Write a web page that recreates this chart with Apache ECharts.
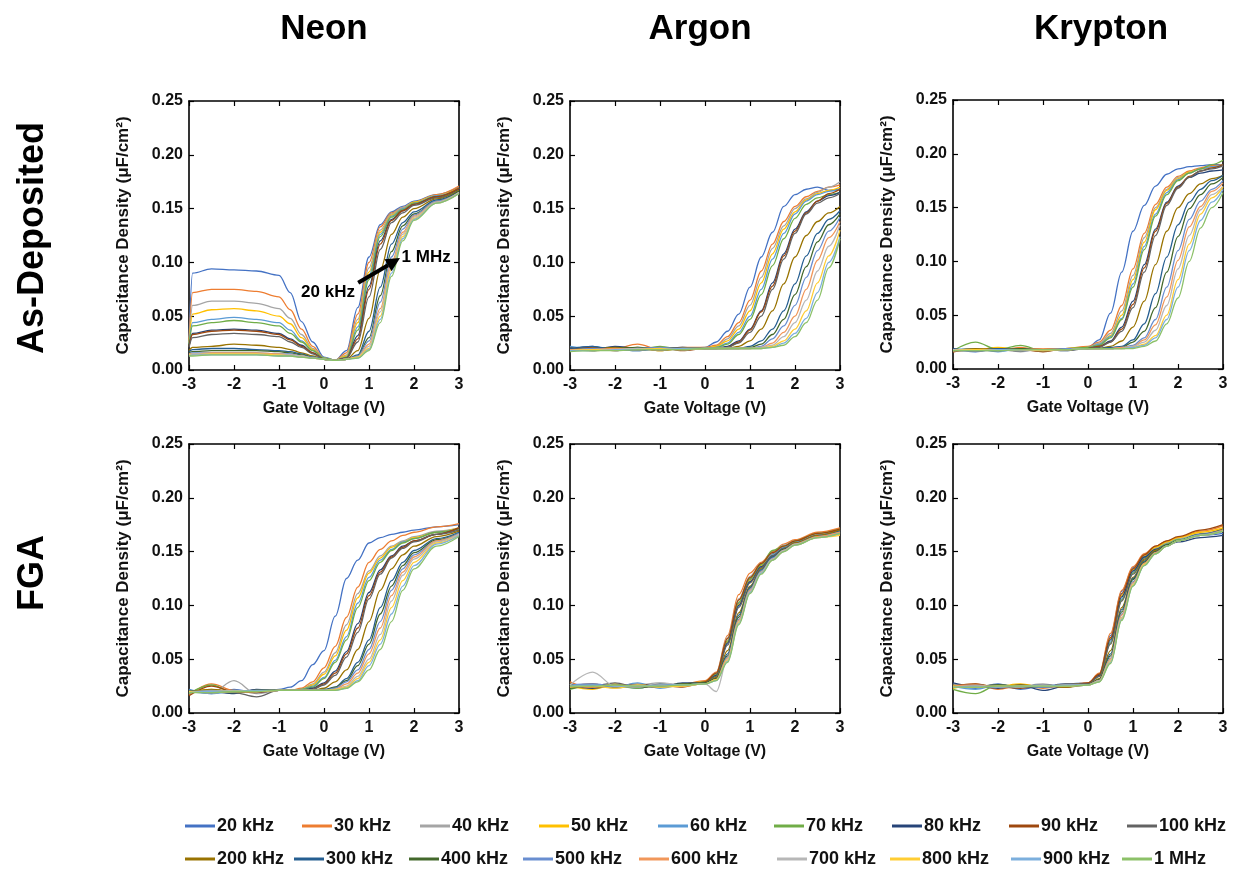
<!DOCTYPE html>
<html><head><meta charset="utf-8">
<script src="https://cdn.jsdelivr.net/npm/echarts@6/dist/echarts.min.js"></script>
<style>html,body{margin:0;padding:0;background:#fff}#c{width:1238px;height:871px}</style>
</head><body><div id="c"></div>
<script>
const FONT = '"Liberation Sans", Arial, sans-serif';
const frequencies = ['20 kHz','30 kHz','40 kHz','50 kHz','60 kHz','70 kHz','80 kHz','90 kHz','100 kHz','200 kHz','300 kHz','400 kHz','500 kHz','600 kHz','700 kHz','800 kHz','900 kHz','1 MHz'];
const lineColors = ['#4472C4','#ED7D31','#A5A5A5','#FFC000','#5B9BD5','#70AD47','#264478','#9E480E','#636363','#997300','#255E91','#43682B','#698ED0','#F1975A','#B7B7B7','#FFCD33','#7CAFDD','#8CC168'];
const gasTitles = ['Neon','Argon','Krypton'];
const rowTitles = ['As-Deposited','FGA'];
const xTickLabels = ['-3','-2','-1','0','1','2','3'];
const yTickLabels = ['0.00','0.05','0.10','0.15','0.20','0.25'];
const xAxisName = 'Gate Voltage (V)';
const yAxisName = 'Capacitance Density (\u03bcF/cm\u00b2)';

// ---- Neon, As-Deposited ----
const voltNeonAD = [-3,-2.92,-2.5,-2,-1.5,-1,-0.75,-0.5,-0.25,0,0.25,0.5,0.75,1,1.25,1.5,1.75,2,2.5,3];
const neonAD = [
 [0.030,0.090,0.094,0.093,0.092,0.088,0.072,0.045,0.026,0.012,0.009,0.018,0.058,0.105,0.135,0.147,0.152,0.157,0.163,0.170],
 [0.028,0.072,0.075,0.075,0.073,0.068,0.056,0.038,0.022,0.011,0.009,0.016,0.052,0.100,0.133,0.146,0.151,0.156,0.163,0.171],
 [0.026,0.060,0.064,0.064,0.062,0.057,0.048,0.033,0.020,0.011,0.009,0.014,0.047,0.095,0.130,0.145,0.151,0.156,0.162,0.169],
 [0.025,0.052,0.056,0.057,0.055,0.050,0.043,0.030,0.019,0.011,0.009,0.013,0.044,0.091,0.128,0.144,0.150,0.156,0.162,0.169],
 [0.024,0.044,0.047,0.049,0.047,0.044,0.037,0.027,0.018,0.011,0.009,0.012,0.040,0.088,0.126,0.143,0.150,0.155,0.162,0.168],
 [0.023,0.041,0.044,0.046,0.044,0.041,0.034,0.026,0.018,0.011,0.009,0.012,0.037,0.084,0.124,0.142,0.149,0.155,0.161,0.168],
 [0.022,0.034,0.037,0.038,0.037,0.034,0.029,0.023,0.016,0.010,0.009,0.011,0.032,0.078,0.120,0.140,0.148,0.154,0.161,0.168],
 [0.022,0.033,0.036,0.037,0.036,0.033,0.028,0.022,0.016,0.010,0.009,0.011,0.029,0.075,0.117,0.139,0.148,0.154,0.161,0.169],
 [0.021,0.030,0.033,0.034,0.033,0.031,0.026,0.021,0.015,0.010,0.009,0.011,0.026,0.068,0.112,0.137,0.146,0.153,0.160,0.167],
 [0.018,0.021,0.022,0.024,0.023,0.021,0.019,0.016,0.013,0.010,0.009,0.010,0.018,0.048,0.093,0.126,0.142,0.150,0.159,0.167],
 [0.017,0.019,0.020,0.020,0.019,0.018,0.017,0.015,0.012,0.010,0.009,0.010,0.014,0.036,0.077,0.117,0.137,0.147,0.158,0.166],
 [0.016,0.017,0.018,0.018,0.018,0.017,0.016,0.014,0.012,0.010,0.009,0.010,0.013,0.030,0.069,0.110,0.134,0.145,0.157,0.166],
 [0.015,0.016,0.016,0.016,0.016,0.015,0.015,0.013,0.012,0.010,0.009,0.010,0.013,0.027,0.063,0.105,0.131,0.144,0.157,0.165],
 [0.015,0.015,0.016,0.016,0.016,0.015,0.014,0.013,0.011,0.010,0.009,0.010,0.012,0.024,0.057,0.100,0.128,0.143,0.156,0.165],
 [0.014,0.015,0.015,0.015,0.015,0.014,0.014,0.013,0.011,0.010,0.009,0.010,0.012,0.022,0.054,0.097,0.126,0.142,0.156,0.165],
 [0.014,0.014,0.015,0.015,0.015,0.014,0.013,0.012,0.011,0.010,0.009,0.010,0.012,0.020,0.050,0.094,0.124,0.141,0.155,0.164],
 [0.013,0.014,0.014,0.014,0.014,0.013,0.013,0.012,0.011,0.010,0.009,0.010,0.011,0.019,0.047,0.090,0.122,0.140,0.155,0.164],
 [0.013,0.013,0.014,0.014,0.014,0.013,0.013,0.012,0.011,0.010,0.009,0.010,0.011,0.018,0.044,0.087,0.120,0.139,0.155,0.164]
];

// ---- Argon, As-Deposited ----
const voltArgonAD = [-3,-2.5,-2,-1.5,-1,-0.5,0,0.25,0.5,0.75,1,1.25,1.5,1.75,2,2.25,2.5,2.75,3];
const argonAD = [
 [0.019,0.022,0.018,0.021,0.020,0.019,0.021,0.026,0.036,0.052,0.077,0.105,0.128,0.152,0.163,0.168,0.170,0.167,0.168],
 [0.021,0.019,0.020,0.024,0.019,0.021,0.021,0.023,0.031,0.044,0.065,0.092,0.117,0.138,0.152,0.161,0.166,0.170,0.172],
 [0.018,0.020,0.021,0.019,0.021,0.020,0.020,0.022,0.029,0.041,0.060,0.086,0.113,0.134,0.150,0.159,0.165,0.170,0.175],
 [0.020,0.018,0.019,0.021,0.018,0.020,0.020,0.022,0.027,0.038,0.055,0.081,0.108,0.131,0.147,0.158,0.164,0.167,0.170],
 [0.022,0.020,0.019,0.018,0.020,0.021,0.020,0.021,0.025,0.035,0.050,0.075,0.103,0.127,0.145,0.157,0.163,0.166,0.168],
 [0.017,0.021,0.020,0.019,0.022,0.019,0.020,0.021,0.024,0.033,0.047,0.070,0.097,0.122,0.141,0.154,0.160,0.163,0.165],
 [0.020,0.019,0.022,0.020,0.019,0.020,0.020,0.020,0.022,0.027,0.038,0.055,0.081,0.108,0.131,0.147,0.157,0.162,0.165],
 [0.019,0.021,0.018,0.020,0.021,0.018,0.020,0.020,0.021,0.026,0.037,0.054,0.078,0.106,0.129,0.146,0.157,0.164,0.168],
 [0.021,0.018,0.020,0.019,0.020,0.021,0.020,0.020,0.021,0.025,0.035,0.050,0.075,0.103,0.127,0.145,0.155,0.160,0.164],
 [0.018,0.020,0.021,0.020,0.018,0.020,0.020,0.020,0.020,0.022,0.027,0.038,0.055,0.080,0.105,0.125,0.138,0.146,0.152],
 [0.020,0.022,0.019,0.018,0.020,0.019,0.020,0.020,0.020,0.020,0.022,0.027,0.038,0.055,0.080,0.106,0.127,0.140,0.148],
 [0.019,0.018,0.020,0.021,0.019,0.020,0.020,0.020,0.020,0.020,0.021,0.024,0.033,0.047,0.070,0.096,0.119,0.135,0.145],
 [0.018,0.020,0.019,0.020,0.021,0.019,0.020,0.020,0.020,0.020,0.020,0.022,0.029,0.041,0.060,0.086,0.111,0.129,0.142],
 [0.019,0.019,0.020,0.019,0.019,0.020,0.020,0.020,0.020,0.020,0.020,0.021,0.025,0.035,0.050,0.075,0.102,0.123,0.138],
 [0.018,0.019,0.019,0.020,0.019,0.019,0.020,0.020,0.020,0.020,0.020,0.021,0.023,0.031,0.044,0.065,0.092,0.115,0.135],
 [0.018,0.019,0.019,0.019,0.020,0.019,0.020,0.020,0.020,0.020,0.020,0.020,0.022,0.027,0.038,0.055,0.081,0.106,0.130],
 [0.018,0.018,0.019,0.019,0.019,0.020,0.020,0.020,0.020,0.020,0.020,0.020,0.021,0.025,0.034,0.048,0.072,0.100,0.124],
 [0.017,0.018,0.018,0.019,0.019,0.019,0.020,0.020,0.020,0.020,0.020,0.020,0.021,0.023,0.031,0.044,0.065,0.095,0.122]
];

// ---- Krypton, As-Deposited ----
const voltKryptonAD = [-3,-2.5,-2,-1.5,-1,-0.5,0,0.25,0.5,0.75,1,1.25,1.5,1.75,2,2.25,2.5,2.75,3];
const kryptonAD = [
 [0.018,0.016,0.019,0.017,0.019,0.018,0.020,0.027,0.052,0.090,0.128,0.152,0.170,0.181,0.186,0.188,0.189,0.190,0.190],
 [0.016,0.019,0.017,0.020,0.017,0.019,0.021,0.025,0.036,0.059,0.093,0.126,0.153,0.169,0.179,0.184,0.187,0.189,0.190],
 [0.019,0.017,0.018,0.016,0.019,0.018,0.020,0.024,0.033,0.054,0.087,0.122,0.150,0.167,0.178,0.183,0.186,0.188,0.188],
 [0.017,0.018,0.020,0.018,0.017,0.019,0.020,0.023,0.031,0.050,0.083,0.118,0.148,0.166,0.177,0.183,0.186,0.188,0.190],
 [0.018,0.019,0.016,0.019,0.018,0.017,0.020,0.023,0.030,0.047,0.079,0.114,0.144,0.164,0.176,0.182,0.186,0.188,0.190],
 [0.017,0.025,0.018,0.022,0.017,0.019,0.020,0.022,0.029,0.046,0.076,0.111,0.142,0.162,0.175,0.182,0.186,0.190,0.194],
 [0.019,0.017,0.018,0.017,0.019,0.018,0.019,0.021,0.026,0.039,0.063,0.097,0.130,0.155,0.170,0.178,0.182,0.184,0.185],
 [0.016,0.018,0.019,0.018,0.016,0.019,0.019,0.021,0.025,0.037,0.060,0.094,0.128,0.154,0.169,0.179,0.184,0.187,0.190],
 [0.018,0.017,0.017,0.019,0.018,0.017,0.019,0.020,0.025,0.035,0.057,0.090,0.124,0.152,0.168,0.178,0.184,0.186,0.189],
 [0.017,0.019,0.018,0.017,0.019,0.018,0.019,0.019,0.021,0.026,0.039,0.063,0.097,0.128,0.150,0.163,0.172,0.177,0.180],
 [0.018,0.017,0.019,0.018,0.017,0.018,0.019,0.019,0.020,0.021,0.027,0.042,0.070,0.104,0.134,0.155,0.167,0.175,0.180],
 [0.017,0.018,0.017,0.019,0.018,0.018,0.019,0.019,0.019,0.020,0.025,0.035,0.057,0.090,0.123,0.149,0.162,0.172,0.178],
 [0.018,0.018,0.018,0.017,0.018,0.019,0.019,0.019,0.019,0.020,0.022,0.029,0.046,0.076,0.110,0.139,0.156,0.167,0.175],
 [0.017,0.017,0.018,0.018,0.019,0.018,0.019,0.019,0.019,0.020,0.021,0.027,0.041,0.067,0.101,0.132,0.151,0.165,0.173],
 [0.018,0.018,0.017,0.018,0.018,0.018,0.019,0.019,0.019,0.019,0.021,0.025,0.036,0.059,0.093,0.124,0.148,0.162,0.170],
 [0.017,0.018,0.018,0.018,0.017,0.018,0.019,0.019,0.019,0.019,0.020,0.023,0.031,0.050,0.083,0.116,0.144,0.159,0.169],
 [0.017,0.017,0.018,0.018,0.018,0.018,0.019,0.019,0.019,0.019,0.020,0.022,0.029,0.046,0.076,0.110,0.138,0.155,0.167],
 [0.017,0.017,0.017,0.018,0.018,0.018,0.019,0.019,0.019,0.019,0.019,0.021,0.026,0.042,0.066,0.100,0.131,0.150,0.164]
];

// ---- Neon, FGA ----
const voltNeonFGA = [-3,-2.5,-2,-1.5,-1,-0.75,-0.5,-0.25,0,0.25,0.5,0.75,1,1.25,1.5,1.75,2,2.5,3];
const neonFGA = [
 [0.020,0.018,0.022,0.019,0.022,0.024,0.030,0.045,0.058,0.090,0.125,0.142,0.158,0.163,0.166,0.168,0.170,0.173,0.175],
 [0.017,0.027,0.021,0.020,0.021,0.021,0.023,0.029,0.042,0.062,0.089,0.117,0.140,0.152,0.160,0.165,0.168,0.173,0.176],
 [0.021,0.019,0.030,0.018,0.021,0.021,0.022,0.027,0.038,0.056,0.082,0.111,0.132,0.146,0.155,0.160,0.164,0.169,0.172],
 [0.019,0.022,0.019,0.021,0.021,0.021,0.022,0.026,0.036,0.053,0.077,0.107,0.130,0.144,0.154,0.159,0.163,0.168,0.172],
 [0.022,0.018,0.020,0.019,0.021,0.021,0.022,0.025,0.033,0.049,0.071,0.102,0.126,0.142,0.152,0.159,0.162,0.168,0.171],
 [0.018,0.026,0.019,0.021,0.021,0.021,0.022,0.024,0.032,0.047,0.068,0.098,0.123,0.140,0.151,0.158,0.162,0.168,0.171],
 [0.021,0.020,0.018,0.022,0.021,0.021,0.021,0.023,0.028,0.039,0.057,0.083,0.112,0.133,0.146,0.155,0.160,0.166,0.172],
 [0.016,0.025,0.020,0.019,0.021,0.021,0.021,0.022,0.027,0.037,0.055,0.079,0.109,0.131,0.145,0.154,0.160,0.166,0.172],
 [0.020,0.021,0.019,0.015,0.021,0.021,0.021,0.022,0.026,0.035,0.052,0.075,0.106,0.129,0.144,0.153,0.159,0.166,0.170],
 [0.019,0.022,0.020,0.021,0.021,0.021,0.021,0.021,0.023,0.029,0.040,0.059,0.085,0.114,0.134,0.147,0.155,0.164,0.169],
 [0.021,0.019,0.021,0.020,0.021,0.021,0.021,0.021,0.022,0.024,0.032,0.047,0.068,0.098,0.123,0.140,0.151,0.162,0.168],
 [0.020,0.020,0.019,0.021,0.021,0.021,0.021,0.021,0.021,0.024,0.030,0.044,0.064,0.092,0.118,0.137,0.149,0.161,0.167],
 [0.019,0.021,0.020,0.020,0.021,0.021,0.021,0.021,0.021,0.023,0.029,0.040,0.059,0.085,0.114,0.134,0.147,0.160,0.167],
 [0.020,0.019,0.020,0.020,0.021,0.021,0.021,0.021,0.021,0.022,0.027,0.037,0.055,0.079,0.109,0.131,0.145,0.160,0.166],
 [0.019,0.020,0.021,0.020,0.021,0.021,0.021,0.021,0.021,0.022,0.025,0.034,0.050,0.073,0.104,0.128,0.143,0.159,0.166],
 [0.020,0.020,0.020,0.020,0.021,0.021,0.021,0.021,0.021,0.022,0.024,0.032,0.047,0.068,0.098,0.123,0.140,0.158,0.165],
 [0.019,0.020,0.020,0.021,0.021,0.021,0.021,0.021,0.021,0.021,0.023,0.030,0.044,0.064,0.092,0.118,0.137,0.157,0.165],
 [0.019,0.019,0.020,0.020,0.021,0.021,0.021,0.021,0.021,0.021,0.023,0.029,0.040,0.059,0.085,0.114,0.134,0.155,0.164]
];

// ---- Argon, FGA ----
const voltArgonFGA = [-3,-2.5,-2,-1.5,-1,-0.5,0,0.25,0.5,0.75,1,1.25,1.5,1.75,2,2.5,3];
const argonFGA = [
 [0.027,0.024,0.026,0.023,0.027,0.026,0.029,0.036,0.066,0.102,0.124,0.137,0.148,0.154,0.159,0.164,0.167],
 [0.029,0.023,0.025,0.027,0.024,0.027,0.030,0.038,0.072,0.110,0.130,0.140,0.150,0.157,0.161,0.168,0.172],
 [0.024,0.027,0.023,0.026,0.028,0.025,0.028,0.037,0.070,0.106,0.127,0.139,0.149,0.156,0.160,0.166,0.170],
 [0.025,0.022,0.027,0.024,0.025,0.027,0.029,0.035,0.066,0.101,0.123,0.137,0.147,0.154,0.158,0.164,0.166],
 [0.026,0.025,0.024,0.028,0.023,0.026,0.028,0.035,0.064,0.099,0.122,0.136,0.147,0.154,0.159,0.165,0.169],
 [0.022,0.026,0.025,0.023,0.027,0.025,0.029,0.036,0.067,0.103,0.125,0.138,0.151,0.155,0.160,0.167,0.171],
 [0.026,0.023,0.026,0.025,0.024,0.028,0.028,0.035,0.065,0.100,0.122,0.136,0.146,0.153,0.158,0.165,0.170],
 [0.025,0.027,0.024,0.026,0.026,0.024,0.029,0.037,0.069,0.105,0.126,0.139,0.149,0.155,0.160,0.167,0.171],
 [0.024,0.025,0.028,0.024,0.025,0.026,0.028,0.034,0.063,0.098,0.121,0.135,0.146,0.153,0.158,0.164,0.168],
 [0.027,0.024,0.025,0.026,0.024,0.026,0.028,0.033,0.058,0.093,0.118,0.134,0.145,0.152,0.158,0.165,0.170],
 [0.025,0.026,0.024,0.025,0.027,0.025,0.028,0.032,0.055,0.091,0.117,0.133,0.145,0.152,0.157,0.164,0.169],
 [0.023,0.025,0.026,0.024,0.025,0.027,0.028,0.032,0.053,0.089,0.116,0.132,0.144,0.152,0.157,0.164,0.168],
 [0.026,0.027,0.025,0.026,0.024,0.026,0.027,0.031,0.052,0.087,0.115,0.132,0.144,0.151,0.157,0.164,0.168],
 [0.025,0.024,0.026,0.025,0.026,0.025,0.027,0.031,0.051,0.086,0.114,0.131,0.143,0.151,0.157,0.164,0.168],
 [0.026,0.038,0.025,0.024,0.028,0.026,0.027,0.020,0.050,0.085,0.113,0.131,0.143,0.151,0.157,0.163,0.167],
 [0.024,0.025,0.023,0.026,0.024,0.025,0.027,0.031,0.049,0.084,0.112,0.130,0.142,0.150,0.156,0.163,0.165],
 [0.025,0.026,0.025,0.025,0.026,0.026,0.027,0.030,0.048,0.083,0.112,0.130,0.142,0.150,0.156,0.163,0.167],
 [0.025,0.025,0.026,0.025,0.025,0.026,0.027,0.030,0.047,0.082,0.111,0.129,0.142,0.150,0.156,0.163,0.167]
];

// ---- Krypton, FGA ----
const voltKryptonFGA = [-3,-2.5,-2,-1.5,-1,-0.5,0,0.25,0.5,0.75,1,1.25,1.5,1.75,2,2.5,3];
const kryptonFGA = [
 [0.026,0.023,0.027,0.022,0.025,0.027,0.028,0.036,0.072,0.113,0.135,0.147,0.154,0.158,0.161,0.165,0.167],
 [0.024,0.027,0.022,0.026,0.023,0.026,0.028,0.037,0.074,0.114,0.136,0.148,0.155,0.160,0.163,0.169,0.174],
 [0.027,0.024,0.026,0.025,0.027,0.024,0.027,0.035,0.070,0.110,0.133,0.146,0.153,0.158,0.162,0.167,0.171],
 [0.023,0.026,0.025,0.027,0.024,0.026,0.027,0.035,0.069,0.109,0.133,0.146,0.154,0.159,0.163,0.168,0.172],
 [0.025,0.022,0.026,0.024,0.026,0.025,0.027,0.034,0.066,0.106,0.131,0.145,0.152,0.157,0.161,0.166,0.170],
 [0.022,0.018,0.026,0.025,0.024,0.026,0.027,0.034,0.065,0.105,0.130,0.144,0.152,0.157,0.161,0.166,0.170],
 [0.028,0.025,0.023,0.026,0.021,0.025,0.027,0.035,0.068,0.108,0.132,0.145,0.152,0.156,0.159,0.163,0.165],
 [0.025,0.027,0.024,0.023,0.026,0.024,0.028,0.036,0.070,0.111,0.134,0.147,0.155,0.160,0.164,0.170,0.175],
 [0.024,0.025,0.026,0.025,0.024,0.027,0.027,0.034,0.064,0.104,0.129,0.143,0.151,0.156,0.160,0.165,0.169],
 [0.026,0.024,0.025,0.026,0.025,0.024,0.026,0.032,0.058,0.098,0.126,0.142,0.151,0.156,0.160,0.166,0.171],
 [0.024,0.026,0.024,0.025,0.026,0.025,0.026,0.031,0.055,0.096,0.125,0.141,0.150,0.156,0.160,0.166,0.170],
 [0.025,0.025,0.026,0.024,0.025,0.026,0.026,0.031,0.053,0.094,0.124,0.140,0.150,0.156,0.160,0.166,0.170],
 [0.024,0.024,0.025,0.025,0.024,0.025,0.026,0.030,0.051,0.092,0.122,0.139,0.149,0.155,0.160,0.166,0.170],
 [0.025,0.026,0.024,0.025,0.025,0.026,0.026,0.030,0.050,0.091,0.121,0.139,0.149,0.155,0.160,0.165,0.170],
 [0.024,0.025,0.025,0.024,0.026,0.025,0.026,0.030,0.049,0.089,0.120,0.138,0.148,0.155,0.160,0.165,0.169],
 [0.025,0.024,0.025,0.025,0.025,0.025,0.026,0.029,0.048,0.088,0.119,0.138,0.148,0.155,0.160,0.165,0.169],
 [0.024,0.025,0.024,0.025,0.025,0.026,0.026,0.029,0.047,0.087,0.118,0.137,0.148,0.155,0.160,0.165,0.169],
 [0.024,0.024,0.025,0.025,0.025,0.025,0.026,0.029,0.046,0.086,0.118,0.137,0.148,0.155,0.160,0.165,0.169]
];

const annotationLabels = ['20 kHz','1 MHz'];

// ---------- layout ----------
const panels = [
  {volts: voltNeonAD, rows: neonAD, left: 189, top: 101},
  {volts: voltArgonAD, rows: argonAD, left: 570, top: 101},
  {volts: voltKryptonAD, rows: kryptonAD, left: 953, top: 100},
  {volts: voltNeonFGA, rows: neonFGA, left: 189, top: 444},
  {volts: voltArgonFGA, rows: argonFGA, left: 570, top: 444},
  {volts: voltKryptonFGA, rows: kryptonFGA, left: 953, top: 444}
];
const GW = 270, GH = 269;

const grids = [], xAxes = [], yAxes = [], series = [];
const lineStyleAxis = {color: '#000', width: 1.6};
const tickStyle = {show: true, inside: true, length: 5, lineStyle: {color: '#000', width: 1.2}};
const labelStyle = {fontFamily: FONT, fontWeight: 'bold', fontSize: 16, color: '#111'};

panels.forEach((p, i) => {
  grids.push({left: p.left, top: p.top, width: GW, height: GH, containLabel: false});
  const xBase = {gridIndex: i, type: 'value', min: -3, max: 3, interval: 1, splitLine: {show: false},
    axisLine: {show: true, onZero: false, lineStyle: lineStyleAxis}, axisTick: tickStyle};
  xAxes.push(Object.assign({}, xBase, {position: 'bottom',
    axisLabel: Object.assign({margin: 7, formatter: v => xTickLabels[Math.round(v + 3)]}, labelStyle),
    name: xAxisName, nameLocation: 'middle', nameGap: 31,
    nameTextStyle: {fontFamily: FONT, fontWeight: 'bold', fontSize: 16, color: '#111'}}));
  xAxes.push(Object.assign({}, xBase, {position: 'top', axisLabel: {show: false}}));
  const yBase = {gridIndex: i, type: 'value', min: 0, max: 0.25, interval: 0.05, splitLine: {show: false},
    axisLine: {show: true, onZero: false, lineStyle: lineStyleAxis}, axisTick: tickStyle};
  yAxes.push(Object.assign({}, yBase, {position: 'left',
    axisLabel: Object.assign({margin: 6, formatter: v => yTickLabels[Math.round(v / 0.05)]}, labelStyle),
    name: yAxisName, nameLocation: 'middle', nameGap: 57,
    nameTextStyle: {fontFamily: FONT, fontWeight: 'bold', fontSize: 17, color: '#111'}}));
  yAxes.push(Object.assign({}, yBase, {position: 'right', axisLabel: {show: false}}));
  p.rows.forEach((row, k) => {
    series.push({
      type: 'line', name: frequencies[k], xAxisIndex: 2 * i, yAxisIndex: 2 * i,
      data: p.volts.map((v, j) => [v, row[j]]),
      symbol: 'none', smooth: 0.35, smoothMonotone: 'x', silent: true,
      lineStyle: {width: 1.3, color: lineColors[k]}, itemStyle: {color: lineColors[k]},
      animation: false
    });
  });
});

// legend: two rows of nine
const legendLeft = [[185,302,420,539,658,774,892,1009,1127],[185,294,409,523,639,777,890,1011,1122]];
const legendTop = [817, 850];
const legends = frequencies.map((f, k) => {
  const r = k < 9 ? 0 : 1, c = k % 9;
  return {data: [f], left: legendLeft[r][c], top: legendTop[r], orient: 'horizontal',
    icon: 'rect', itemWidth: 30, itemHeight: 3, itemGap: 0, padding: 0, selectedMode: false,
    textStyle: {fontFamily: FONT, fontWeight: 'bold', fontSize: 18, color: '#111', padding: [0,0,0,-3]}};
});

const graphics = [];
const titleX = [324, 700, 1101];
gasTitles.forEach((t, i) => graphics.push({type: 'text', x: titleX[i], y: 29, z: 10,
  style: {text: t, font: 'bold 35px ' + FONT, fill: '#000', textAlign: 'center', textVerticalAlign: 'middle', align: 'center', verticalAlign: 'middle'}}));
const rowY = [238, 573];
rowTitles.forEach((t, i) => graphics.push({type: 'text', x: 33, y: rowY[i], rotation: Math.PI / 2, z: 10,
  style: {text: t, font: 'bold 36px ' + FONT, fill: '#000', textAlign: 'center', textVerticalAlign: 'middle', align: 'center', verticalAlign: 'middle'}}));

const chart = echarts.init(document.getElementById('c'), null, {renderer: 'canvas'});
chart.setOption({
  backgroundColor: '#fff', animation: false,
  grid: grids, xAxis: xAxes, yAxis: yAxes, legend: legends, series: series, graphic: graphics
});

// arrow annotation in the Neon / As-Deposited panel (data coordinates)
const arrowFrom = [0.76, 0.081], arrowTo = [1.69, 0.104];
const lbl20 = [0.09, 0.0725], lbl1M = [2.27, 0.105];
const pA = chart.convertToPixel({gridIndex: 0}, arrowFrom);
const pB = chart.convertToPixel({gridIndex: 0}, arrowTo);
const p20 = chart.convertToPixel({gridIndex: 0}, lbl20);
const p1M = chart.convertToPixel({gridIndex: 0}, lbl1M);
const ang = Math.atan2(pB[1] - pA[1], pB[0] - pA[0]);
const hl = 14, hw = 7;
const bx = pB[0] - hl * Math.cos(ang), by = pB[1] - hl * Math.sin(ang);
graphics.push(
  {type: 'line', z: 20, shape: {x1: pA[0], y1: pA[1], x2: bx, y2: by}, style: {stroke: '#000', lineWidth: 4}},
  {type: 'polygon', z: 20, shape: {points: [[pB[0], pB[1]], [bx + hw * Math.sin(ang), by - hw * Math.cos(ang)], [bx - hw * Math.sin(ang), by + hw * Math.cos(ang)]]}, style: {fill: '#000'}},
  {type: 'text', x: p20[0], y: p20[1], z: 20, style: {text: annotationLabels[0], font: 'bold 17px ' + FONT, fill: '#000', textAlign: 'center', textVerticalAlign: 'middle', align: 'center', verticalAlign: 'middle'}},
  {type: 'text', x: p1M[0], y: p1M[1], z: 20, style: {text: annotationLabels[1], font: 'bold 17px ' + FONT, fill: '#000', textAlign: 'center', textVerticalAlign: 'middle', align: 'center', verticalAlign: 'middle'}}
);
chart.setOption({graphic: graphics});
</script></body></html>
